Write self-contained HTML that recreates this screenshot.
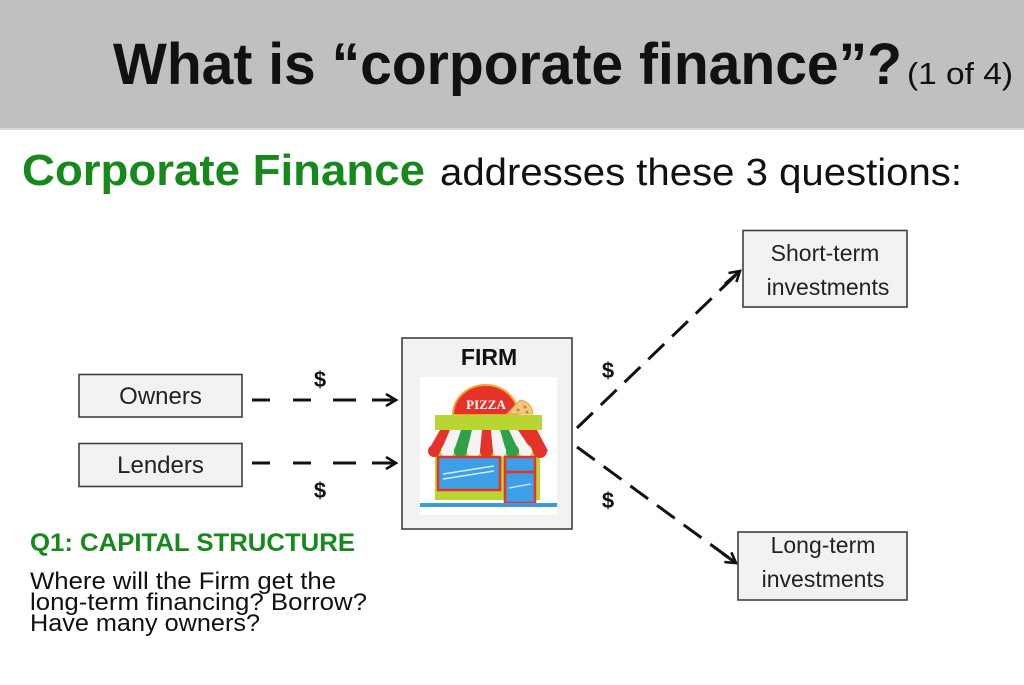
<!DOCTYPE html>
<html><head><meta charset="utf-8"><style>
html,body{margin:0;padding:0;background:#fff;}
svg{display:block;}
text{font-family:"Liberation Sans",Arial,sans-serif;}
</style></head><body>
<svg width="1024" height="685" viewBox="0 0 1024 685" xmlns="http://www.w3.org/2000/svg">
<defs>
<marker id="ah" markerWidth="14" markerHeight="14" refX="11" refY="7" orient="auto" markerUnits="userSpaceOnUse">
<path d="M1,1 L11,7 L1,13" fill="none" stroke="#111" stroke-width="2.6" stroke-dasharray="none"/>
</marker>
</defs>
<rect x="0" y="0" width="1024" height="128" fill="#c0c0c0"/>
<rect x="0" y="128" width="1024" height="2" fill="#d8d8d8"/>
<text x="113" y="84" font-size="58" font-weight="bold" fill="#111" textLength="789" lengthAdjust="spacingAndGlyphs">What is “corporate finance”?</text>
<text x="907" y="84" font-size="31" fill="#111" textLength="106" lengthAdjust="spacingAndGlyphs">(1 of 4)</text>

<text x="22" y="185" font-size="44" font-weight="bold" fill="#17891c" textLength="403" lengthAdjust="spacingAndGlyphs">Corporate Finance</text>
<text x="440" y="185" font-size="38" fill="#111" textLength="522" lengthAdjust="spacingAndGlyphs">addresses these 3 questions:</text>

<!-- left boxes -->
<rect x="79" y="374.5" width="163" height="42.5" fill="#f2f2f2" stroke="#404040" stroke-width="1.6"/>
<text x="160.5" y="404" font-size="24" fill="#222" text-anchor="middle">Owners</text>
<rect x="79" y="443.5" width="163" height="43" fill="#f2f2f2" stroke="#404040" stroke-width="1.6"/>
<text x="160.5" y="473" font-size="24" fill="#222" text-anchor="middle">Lenders</text>

<!-- horizontal arrows -->
<g stroke="#111" stroke-width="3" fill="none">
<path d="M252,400 H270 M293,400 H311 M333,400 H356"/>
<path d="M372,400 H396" marker-end="url(#ah)"/>
<path d="M252,463 H270 M293,463 H311 M333,463 H356"/>
<path d="M372,463 H396" marker-end="url(#ah)"/>
</g>
<text x="320" y="387" font-size="22" font-weight="bold" fill="#111" text-anchor="middle">$</text>
<text x="320" y="498" font-size="22" font-weight="bold" fill="#111" text-anchor="middle">$</text>

<!-- Q1 -->
<text x="30" y="551" font-size="25" font-weight="bold" fill="#17891c" textLength="325" lengthAdjust="spacingAndGlyphs">Q1: CAPITAL STRUCTURE</text>
<text x="30" y="589" font-size="24" fill="#111" textLength="306" lengthAdjust="spacingAndGlyphs">Where will the Firm get the</text>
<text x="30" y="610" font-size="24" fill="#111" textLength="337" lengthAdjust="spacingAndGlyphs">long-term financing? Borrow?</text>
<text x="30" y="631" font-size="24" fill="#111" textLength="230" lengthAdjust="spacingAndGlyphs">Have many owners?</text>

<!-- FIRM box -->
<rect x="402" y="338" width="170" height="191" fill="#f2f2f2" stroke="#404040" stroke-width="1.6"/>
<text x="489" y="365" font-size="23" font-weight="bold" fill="#111" text-anchor="middle">FIRM</text>
<rect x="420" y="377" width="137" height="138" fill="#fff"/>
<!-- pizza shop -->
<path d="M453,415 A32.5,30 0 0 1 518,415 Z" fill="#e5322a" stroke="#f2a531" stroke-width="2"/>
<text x="486" y="409" font-size="13" font-weight="bold" fill="#fff" text-anchor="middle" style="font-family:'Liberation Serif',serif">PIZZA</text>
<path d="M507,414 L520,400 Q532,402 533,414 Z" fill="#f0c77c" stroke="#e3a94e" stroke-width="1"/>
<circle cx="518" cy="410" r="1.5" fill="#d7793b"/><circle cx="525" cy="407" r="1.5" fill="#d7793b"/><circle cx="527" cy="412" r="1.3" fill="#d7793b"/>
<rect x="435" y="415" width="107" height="15" fill="#b9d532"/>
<rect x="435" y="446" width="105" height="54" fill="#b9d532"/>
<!-- awning -->
<g>
<path d="M440,430 L450,430 L441,451 L428,451 Z" fill="#e5322a"/>
<path d="M450,430 L461,430 L454,451 L441,451 Z" fill="#f4f4f4"/>
<path d="M461,430 L472,430 L467,451 L454,451 Z" fill="#2fa146"/>
<path d="M472,430 L482,430 L480,451 L467,451 Z" fill="#f4f4f4"/>
<path d="M482,430 L491,430 L493,451 L480,451 Z" fill="#e5322a"/>
<path d="M491,430 L500,430 L506,451 L493,451 Z" fill="#f4f4f4"/>
<path d="M500,430 L509,430 L519,451 L506,451 Z" fill="#2fa146"/>
<path d="M509,430 L518,430 L532,451 L519,451 Z" fill="#f4f4f4"/>
<path d="M518,430 L537,430 L548,451 L532,451 Z" fill="#e5322a"/>
<circle cx="434" cy="451" r="6" fill="#e5322a"/>
<circle cx="447.5" cy="451" r="6.5" fill="#f4f4f4"/>
<circle cx="460.5" cy="451" r="6.5" fill="#2fa146"/>
<circle cx="473.5" cy="451" r="6.5" fill="#f4f4f4"/>
<circle cx="486.5" cy="451" r="6.5" fill="#e5322a"/>
<circle cx="499.5" cy="451" r="6.5" fill="#f4f4f4"/>
<circle cx="512.5" cy="451" r="6.5" fill="#2fa146"/>
<circle cx="525.5" cy="451" r="6.5" fill="#f4f4f4"/>
<circle cx="540" cy="451" r="7" fill="#e5322a"/>
</g>
<rect x="438" y="457" width="62" height="33" fill="#3d9fe6" stroke="#e5322a" stroke-width="2.5"/>
<path d="M443,474 L494,466 M443,479 L494,471" stroke="#d6ecfb" stroke-width="1.5"/>
<rect x="505" y="457" width="30" height="46" fill="#3d9fe6" stroke="#e5322a" stroke-width="2.5"/>
<path d="M505,472 H535" stroke="#e5322a" stroke-width="2.5"/>
<path d="M509,488 L531,484" stroke="#d6ecfb" stroke-width="1.2"/>
<rect x="420" y="503" width="137" height="4" fill="#3a9be0"/>

<!-- right boxes -->
<rect x="743" y="230.5" width="164" height="76.5" fill="#f2f2f2" stroke="#404040" stroke-width="1.6"/>
<text x="825" y="261" font-size="23" fill="#222" text-anchor="middle">Short-term</text>
<text x="828" y="295" font-size="23" fill="#222" text-anchor="middle">investments</text>
<rect x="738" y="532" width="169" height="68" fill="#f2f2f2" stroke="#404040" stroke-width="1.6"/>
<text x="823" y="553" font-size="23" fill="#222" text-anchor="middle">Long-term</text>
<text x="823" y="587" font-size="23" fill="#222" text-anchor="middle">investments</text>

<!-- diagonal arrows -->
<g stroke="#111" stroke-width="3" fill="none">
<path d="M577,428 L740,271" stroke-dasharray="22 11"/>
<path d="M725,284 L740,271" marker-end="url(#ah)"/>
<path d="M577,447 L736,563" stroke-dasharray="22 11"/>
<path d="M722,553 L736,563" marker-end="url(#ah)"/>
</g>
<text x="608" y="378" font-size="22" font-weight="bold" fill="#111" text-anchor="middle">$</text>
<text x="608" y="508" font-size="22" font-weight="bold" fill="#111" text-anchor="middle">$</text>
</svg>
</body></html>
